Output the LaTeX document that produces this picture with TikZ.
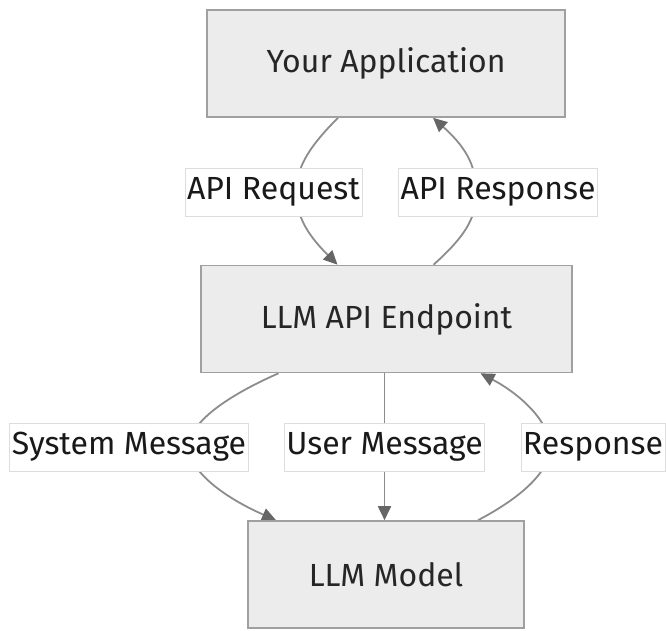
\documentclass[tikz,border=0pt]{standalone}
\usepackage{fontspec}
\setmainfont{Fira Sans}
\usetikzlibrary{arrows.meta,calc}
\pgfdeclarelayer{bg}
\pgfsetlayers{bg,main}
\definecolor{boxfill}{HTML}{ECECEC}
\definecolor{boxline}{HTML}{A0A0A0}
\definecolor{edgecol}{HTML}{8C8C8C}
\definecolor{tipcol}{HTML}{666666}
\definecolor{lblline}{HTML}{DDDDDD}
\tikzset{
  box/.style={draw=boxline, line width=1.6pt, fill=boxfill, minimum height=107pt, inner sep=0pt,
    font=\fontsize{32}{38}\selectfont, text=black!85},
  lbl/.style={draw=lblline, line width=0.8pt, fill=white, minimum height=48pt, inner sep=2pt,
    font=\fontsize{32}{38}\selectfont, text=black!90},
  edge/.style={draw=edgecol, line width=1.8pt, -{Triangle[length=14pt,width=13pt,color=tipcol]}},
}
\begin{document}
\begin{tikzpicture}[x=1pt,y=-1pt]
\useasboundingbox (0,0) rectangle (666,630);
\node[box, minimum width=358pt] (app) at (386,63.5) {Your Application};
\node[box, minimum width=371pt] (ep) at (386.5,319) {LLM API Endpoint};
\node[box, minimum width=276pt] (model) at (386,574.5) {LLM Model};
\node[lbl, minimum width=173pt] (lreq) at (273.5,192) {API Request};
\node[lbl, minimum width=196pt] (lres) at (498,192) {API Response};
\node[lbl, minimum width=238pt] (lsys) at (129,447) {System Message};
\node[lbl, minimum width=199pt] (lusr) at (384.5,447) {User Message};
\node[lbl, minimum width=142pt] (lresp) at (593,447) {Response};
\begin{pgfonlayer}{bg}
\coordinate (reqm) at ($(lreq.center)+(23,0)$);
\coordinate (resm) at ($(lres.center)+(-22,0)$);
\coordinate (sysm) at ($(lsys.center)+(60,0)$);
\coordinate (respm) at ($(lresp.center)+(-43,0)$);
\draw[edge] ([xshift=-48pt]app.south) .. controls +(-33,33) and +(0,-22) .. (reqm)
  .. controls +(0,22) and +(-33,-33) .. ([xshift=-49pt]ep.north);
\draw[edge] ([xshift=47pt]ep.north) .. controls +(37,-33) and +(0,22) .. (resm)
  .. controls +(0,-22) and +(37,33) .. ([xshift=47pt]app.south);
\draw[edge] ([xshift=-108pt]ep.south) .. controls +(-50,22) and +(0,-25) .. (sysm)
  .. controls +(0,25) and +(-50,-22) .. ([xshift=-110pt]model.north);
\draw[edge] (ep.south -| lusr.center) -- (model.north -| lusr.center);
\draw[edge] ([xshift=92pt]model.north) .. controls +(42,-22) and +(0,25) .. (respm)
  .. controls +(0,-25) and +(40,21) .. ([xshift=94pt]ep.south);
\end{pgfonlayer}
\end{tikzpicture}
\end{document}
